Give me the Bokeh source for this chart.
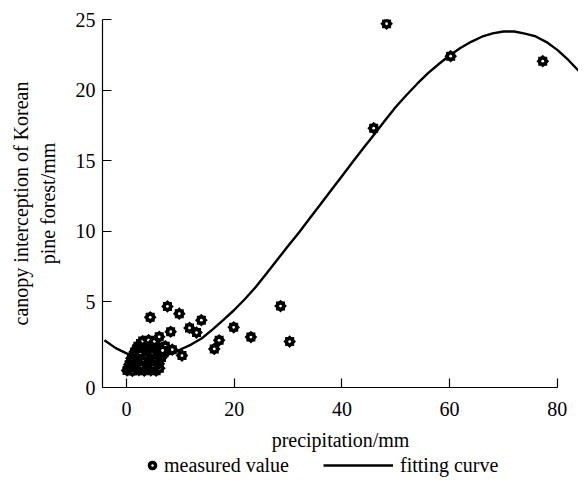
import math
from bokeh.plotting import figure
from bokeh.layouts import column
from bokeh.models import Range1d, FixedTicker, Legend, LegendItem, ColumnDataSource
from bokeh.embed import file_html
from bokeh.resources import INLINE

# measured values (precipitation mm, canopy interception mm)
meas_x = [0.1, 1.1, 2.3, 3.3, 4.5, 5.5, 6.1,
          0.4, 1.6, 2.8, 3.9, 5.0,
          0.5, 1.6, 2.8, 3.8, 4.9, 6.0,
          0.8, 1.9, 3.3, 4.4, 5.5,
          0.9, 2.0, 3.1, 4.2, 5.3, 6.5,
          1.3, 2.5, 3.6, 4.7, 5.9,
          1.5, 2.6, 3.7, 4.8, 5.9, 7.0,
          1.9, 3.0, 4.1, 5.1, 6.3,
          2.1, 3.2, 4.3, 5.4,
          2.6, 3.6, 4.8,
          3.0, 4.1, 5.2,
          7.2, 6.7, 8.5, 10.3,
          6.07, 8.2, 4.4, 7.6, 9.8, 11.7, 13.0, 13.9, 16.3, 17.2,
          19.9, 23.1, 28.6, 30.3,
          45.9, 48.3, 60.2, 77.3]
meas_y = [0.14, 0.10, 0.16, 0.12, 0.15, 0.12, 0.30,
          0.33, 0.35, 0.30, 0.36, 0.32,
          0.55, 0.60, 0.50, 0.58, 0.52, 0.62,
          0.78, 0.80, 0.75, 0.82, 0.77,
          1.00, 1.05, 0.95, 1.02, 0.98, 1.05,
          1.22, 1.25, 1.20, 1.24, 1.21,
          1.45, 1.40, 1.50, 1.42, 1.48, 1.40,
          1.68, 1.70, 1.65, 1.72, 1.66,
          1.85, 1.92, 1.88, 1.95,
          2.05, 2.08, 2.02,
          2.22, 2.28, 2.20,
          1.85, 1.55, 1.61, 1.19,
          2.52, 2.88, 3.90, 4.67, 4.16, 3.15, 2.82, 3.70, 1.66, 2.27,
          3.19, 2.50, 4.70, 2.18,
          17.3, 24.7, 22.4, 22.05]

# fitting curve
fit_x = [-4.1, -2, 0, 2, 4, 6, 8, 10, 12, 14, 16, 18, 20, 22, 24, 26, 28, 30,
         32, 34, 36, 38, 40, 42, 44, 46, 48, 50, 52, 54, 56, 58, 60, 62, 64,
         66, 68, 70, 72, 74, 76, 78, 80, 82, 84, 85.4]
fit_y = [2.27, 1.72, 1.35, 1.15, 1.08, 1.12, 1.30, 1.62, 1.97, 2.42, 3.05, 3.72,
         4.42, 5.20, 6.05, 7.00, 7.98, 8.95, 9.90, 10.90, 11.90, 12.90, 13.90,
         14.90, 15.90, 16.85, 17.85, 18.80, 19.65, 20.45, 21.20, 21.85, 22.45,
         22.98, 23.42, 23.78, 24.02, 24.15, 24.15, 24.00, 23.80, 23.40, 22.85,
         22.15, 21.35, 20.70]

x_ticks = [0, 20, 40, 60, 80]
y_ticks = [0, 5, 10, 15, 20, 25]

FONT = "Liberation Serif"
X_LO, X_HI = -4.46, 83.94
Y_LO, Y_HI = -1.07, 25.0
W = 578
H_MAIN, H_LEG = 453, 24
LEFT = 102

p = figure(width=W, height=H_MAIN, output_backend="svg", toolbar_location=None,
           x_range=Range1d(X_LO, X_HI), y_range=Range1d(Y_LO, Y_HI),
           min_border_left=LEFT, min_border_right=0, min_border_top=19,
           min_border_bottom=H_MAIN - 388)
p.outline_line_color = None
p.grid.visible = False

# axes
p.xaxis.ticker = FixedTicker(ticks=x_ticks)
ytick_pos = [Y_LO] + y_ticks[1:]
p.yaxis.ticker = FixedTicker(ticks=ytick_pos)
p.yaxis.major_label_overrides = {Y_LO: str(y_ticks[0])}
p.xaxis.bounds = (X_LO, 80)
for ax in (p.xaxis[0], p.yaxis[0]):
    ax.axis_line_color = "black"
    ax.axis_line_width = 1.2
    ax.major_tick_line_color = "black"
    ax.major_tick_line_width = 1.2
    ax.major_tick_in = 9
    ax.major_tick_out = 0
    ax.minor_tick_line_color = None
    ax.major_label_text_font = FONT
    ax.major_label_text_font_size = "20px"
    ax.major_label_text_color = "black"
    ax.axis_label_text_font = FONT
    ax.axis_label_text_font_size = "20px"
    ax.axis_label_text_font_style = "normal"
    ax.axis_label_text_color = "black"

p.xaxis.axis_label = "precipitation/mm"
p.xaxis.major_label_standoff = 14
p.xaxis.axis_label_standoff = 10
p.yaxis.axis_label = "canopy interception of Korean\npine forest/mm"
p.yaxis.major_label_standoff = 7
p.yaxis.axis_label_standoff = 14

# fitting curve
p.line(fit_x, fit_y, line_width=2.4, line_color="black")

# measured points, drawn one by one so later markers cover earlier holes
for x, y in zip(meas_x, meas_y):
    src = ColumnDataSource(dict(x=[x], y=[y]))
    p.scatter("x", "y", source=src, marker="circle", size=9.5,
              fill_color="black", line_color=None)
    p.scatter("x", "y", source=src, marker="square", size=9.0,
              fill_color="black", line_color=None)
    p.scatter("x", "y", source=src, marker="square", size=9.0,
              angle=math.pi / 4, fill_color="black", line_color=None)
    p.scatter("x", "y", source=src, marker="circle", size=2.8,
              fill_color="white", line_color=None)

# legend strip below the chart (frame aligned with the chart's frame)
lp = figure(width=W, height=H_LEG, output_backend="svg", toolbar_location=None,
            x_range=Range1d(X_LO, X_HI), y_range=Range1d(Y_LO, Y_HI),
            min_border=0)
lp.axis.visible = False
lp.grid.visible = False
lp.outline_line_color = None
lr_body = lp.scatter(meas_x, meas_y, marker="circle", fill_color="black",
                     line_color=None, visible=False)
lr_hole = lp.scatter(meas_x, meas_y, marker="dot", line_color="white",
                     line_width=1, visible=False)
lr_line = lp.line(fit_x, fit_y, line_width=2.4, line_color="black",
                  visible=False)

common = dict(padding=0, margin=0, border_line_color=None,
              background_fill_alpha=0, label_text_font=FONT,
              label_text_font_size="20px", label_text_color="black",
              glyph_height=H_LEG, label_height=H_LEG)
leg1 = Legend(items=[LegendItem(label="measured value",
                                renderers=[lr_body, lr_hole])],
              location=(140 - LEFT, 0), glyph_width=24, label_standoff=-3,
              **common)
leg2 = Legend(items=[LegendItem(label="fitting curve", renderers=[lr_line])],
              location=(323 - LEFT, 0), glyph_width=70, label_standoff=7,
              **common)
lp.add_layout(leg1, "center")
lp.add_layout(leg2, "center")

layout = column(p, lp, spacing=0)
open("out.html", "w").write(file_html(layout, INLINE))
